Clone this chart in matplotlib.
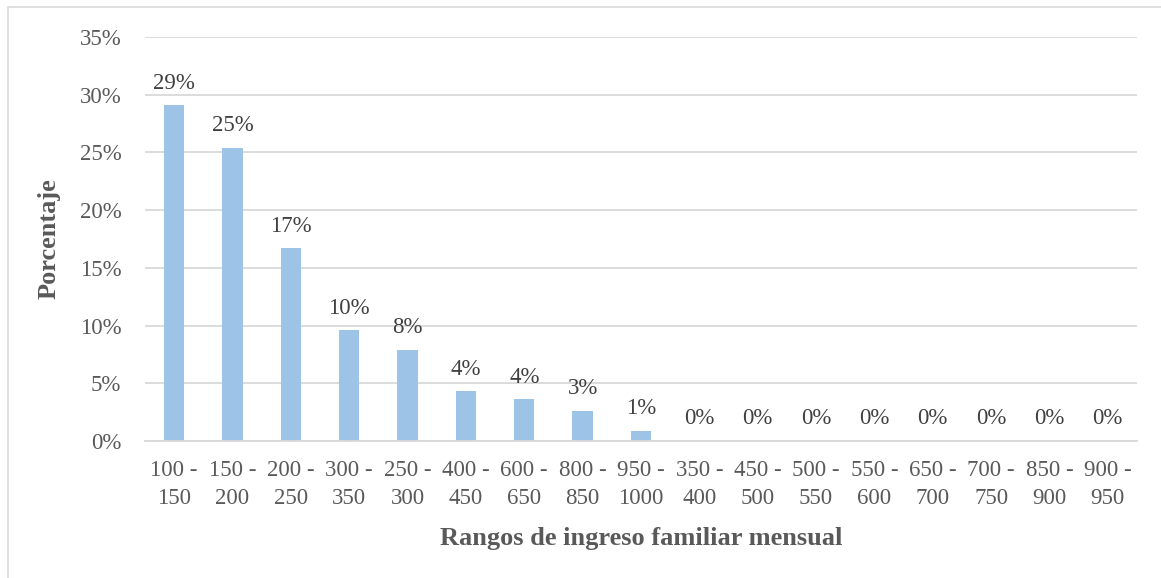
import matplotlib.pyplot as plt
from matplotlib.patches import Rectangle

# Distribution of monthly household income ranges
rangos = ["100 -\n150", "150 -\n200", "200 -\n250", "300 -\n350", "250 -\n300",
          "400 -\n450", "600 -\n650", "800 -\n850", "950 -\n1000", "350 -\n400",
          "450 -\n500", "500 -\n550", "550 -\n600", "650 -\n700", "700 -\n750",
          "850 -\n900", "900 -\n950"]
porcentajes = [29.1, 25.4, 16.7, 9.6, 7.9, 4.3, 3.6, 2.6, 0.9,
               0, 0, 0, 0, 0, 0, 0, 0]

plt.rcParams['font.family'] = ['Liberation Serif', 'DejaVu Serif']
gris = '#595959'

fig = plt.figure(figsize=(11.61, 5.78), dpi=100)
ax = fig.add_axes([0.1249, 0.237, 0.8544, 0.699])

x = range(len(rangos))
ax.bar(x, porcentajes, width=0.35, color='#9DC3E6', zorder=2)

for i, v in enumerate(porcentajes):
    ax.text(i, v + 1.0, f"{v:.0f}%", ha='center', va='bottom',
            fontsize=16.5, color='#404040')

ax.set_xlim(-0.5, len(rangos) - 0.5)
ax.set_ylim(0, 35)
ax.set_yticks(range(0, 36, 5))
ax.set_yticklabels([f"{t}%" for t in range(0, 36, 5)])
ax.set_xticks(list(x))
ax.set_xticklabels(rangos, linespacing=1.4)
ax.tick_params(axis='both', length=0, labelsize=16.5, labelcolor=gris)
ax.tick_params(axis='y', pad=17)
ax.tick_params(axis='x', pad=14)

ax.grid(axis='y', color='#D9D9D9', linewidth=1.3, zorder=0)
for s in ['top', 'right', 'left']:
    ax.spines[s].set_visible(False)
ax.spines['bottom'].set_color('#D9D9D9')
ax.spines['bottom'].set_linewidth(1.3)

ax.set_xlabel("Rangos de ingreso familiar mensual", fontsize=19,
              fontweight='bold', color=gris, labelpad=13)
ax.set_ylabel("Porcentaje", fontsize=19, fontweight='bold', color=gris,
              labelpad=14)

# light frame around the chart area
fig.patches.append(Rectangle((8 / 1161, -0.05), 1.1, 1 - 7 / 578 + 0.05,
                             transform=fig.transFigure, fill=False,
                             edgecolor='#D9D9D9', linewidth=1.2))

fig.savefig("out.png", dpi=100)
